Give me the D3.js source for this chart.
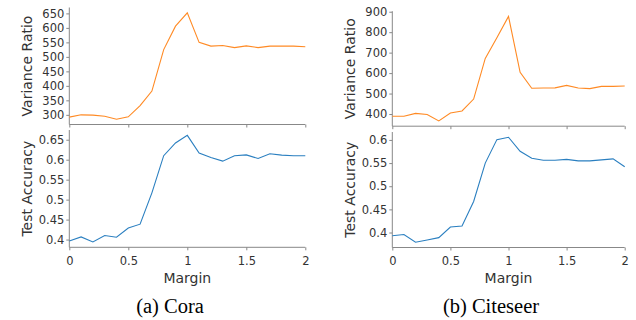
<!DOCTYPE html>
<html>
<head>
<meta charset="utf-8">
<script src="https://cdn.jsdelivr.net/npm/d3@7"></script>
<style>
  body { margin: 0; background: #fff; }
  svg { display: block; }
  .tick text { font-family: "DejaVu Sans", sans-serif; font-size: 11.5px; fill: #333; }
  .tick line, .domain { stroke: #888; }
  .lbl { font-family: "DejaVu Sans", sans-serif; font-size: 14px; fill: #333; }
  .cap { font-family: "Liberation Serif", "Times New Roman", serif; font-size: 20.5px; fill: #000; }
</style>
</head>
<body>
<svg id="viz" width="636" height="320"></svg>
<script>
// margin values on the x axis
var margins = [0, 0.1, 0.2, 0.3, 0.4, 0.5, 0.6, 0.7, 0.8, 0.9, 1.0,
               1.1, 1.2, 1.3, 1.4, 1.5, 1.6, 1.7, 1.8, 1.9, 2.0];

// Cora
var coraRatio = [292, 300, 299, 295, 285, 293, 332, 382, 525, 606, 652,
                 550, 537, 539, 532, 538, 532, 537, 537, 537, 535];
var coraAcc = [0.3965, 0.4066, 0.394, 0.410, 0.406, 0.429, 0.4386, 0.517, 0.610, 0.642, 0.661,
               0.6165, 0.6055, 0.5964, 0.6097, 0.612, 0.603, 0.6148, 0.6115, 0.610, 0.610];

// Citeseer
var citeRatio = [389, 389, 403, 398, 366, 405, 415, 473, 672, 773, 877,
                 604, 526, 527, 528, 540, 527, 524, 535, 535, 537];
var citeAcc = [0.393, 0.3957, 0.379, 0.384, 0.389, 0.412, 0.414, 0.467, 0.550, 0.6007, 0.6058,
               0.5756, 0.5605, 0.556, 0.556, 0.558, 0.5547, 0.5547, 0.557, 0.559, 0.542];

var xTicks = [0, 0.5, 1, 1.5, 2];
var coraRatioTicks = [300, 350, 400, 450, 500, 550, 600, 650];
var coraAccTicks = [0.4, 0.45, 0.5, 0.55, 0.6, 0.65];
var citeRatioTicks = [400, 500, 600, 700, 800, 900];
var citeAccTicks = [0.4, 0.45, 0.5, 0.55, 0.6];

var orange = "#ff8a24", blue = "#2a7fc0";

var svg = d3.select("#viz");

// pad the extent by 5% like the original plotting tool
function padded(vals) {
  var e = d3.extent(vals), p = (e[1] - e[0]) * 0.05;
  return [e[0] - p, e[1] + p];
}

function panel(opt) {
  var x = d3.scaleLinear().domain([0, 2]).range([opt.x0, opt.x1]);

  opt.plots.forEach(function(p, i) {
    var y = d3.scaleLinear().domain(padded(p.values)).range([p.y1, p.y0]);
    var g = svg.append("g");

    var xa = d3.axisBottom(x).tickValues(xTicks).tickSize(3).tickPadding(6.5)
      .tickFormat(i == 1 ? d3.format("") : "");
    g.append("g").attr("transform", "translate(0," + p.y1 + ")").call(xa);

    var ya = d3.axisLeft(y).tickValues(p.ticks).tickSize(3).tickPadding(2)
      .tickFormat(d3.format(""));
    g.append("g").attr("transform", "translate(" + opt.x0 + ",0)").call(ya);
    g.selectAll(".domain").attr("d", null);
    // plain spines
    g.append("line").attr("x1", opt.x0).attr("x2", opt.x0).attr("y1", p.y0).attr("y2", p.y1).attr("stroke", "#888");
    g.append("line").attr("x1", opt.x0).attr("x2", opt.x1).attr("y1", p.y1).attr("y2", p.y1).attr("stroke", "#888");

    g.append("path")
      .datum(p.values)
      .attr("fill", "none")
      .attr("stroke", p.color)
      .attr("stroke-width", 1.1)
      .attr("d", d3.line().x(function(d, j) { return x(margins[j]); }).y(function(d) { return y(d); }));

    g.append("text").attr("class", "lbl")
      .attr("text-anchor", "middle")
      .attr("transform", "translate(" + (opt.x0 - 37.8) + "," + ((p.y0 + p.y1) / 2) + ") rotate(-90)")
      .text(p.label);
  });

  svg.append("text").attr("class", "lbl")
    .attr("text-anchor", "middle")
    .attr("x", (opt.x0 + opt.x1) / 2).attr("y", 283)
    .text("Margin");

  svg.append("text").attr("class", "cap")
    .attr("text-anchor", "middle")
    .attr("x", opt.capX).attr("y", 313)
    .text(opt.caption);
}

panel({
  x0: 69.3, x1: 305.3, capX: 170, caption: "(a) Cora",
  plots: [
    { values: coraRatio, ticks: coraRatioTicks, color: orange, label: "Variance Ratio", y0: 7.5, y1: 124.5 },
    { values: coraAcc, ticks: coraAccTicks, color: blue, label: "Test Accuracy", y0: 130, y1: 247.3 }
  ]
});

panel({
  x0: 392.3, x1: 624.7, capX: 491, caption: "(b) Citeseer",
  plots: [
    { values: citeRatio, ticks: citeRatioTicks, color: orange, label: "Variance Ratio", y0: 11.2, y1: 126.2 },
    { values: citeAcc, ticks: citeAccTicks, color: blue, label: "Test Accuracy", y0: 132, y1: 247.5 }
  ]
});
</script>
</body>
</html>
